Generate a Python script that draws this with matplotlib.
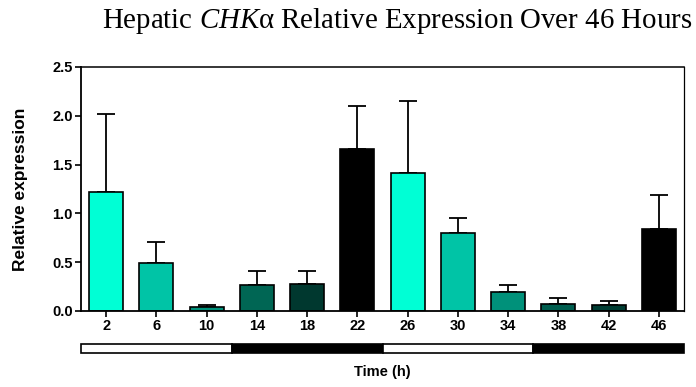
import matplotlib
matplotlib.use("Agg")
import matplotlib.pyplot as plt
from matplotlib.patches import Rectangle
import matplotlib.transforms as mtransforms

# Sampling times (hours) and expression values
hours = ["2", "6", "10", "14", "18", "22", "26", "30", "34", "38", "42", "46"]
means = [1.22, 0.49, 0.04, 0.27, 0.28, 1.66, 1.41, 0.80, 0.19, 0.07, 0.06, 0.84]
upper_err = [0.80, 0.22, 0.018, 0.14, 0.13, 0.44, 0.74, 0.15, 0.08, 0.06, 0.04, 0.35]
colors = ["#00FFD5", "#00C4A6", "#00917A", "#006654", "#00382F", "#000000",
          "#00FFD5", "#00C4A6", "#00917A", "#005E4F", "#003D33", "#000000"]
# Light (white) / dark (black) phases, three sampling points each
phases = ["light", "dark", "light", "dark"]

plt.rcParams["mathtext.fontset"] = "custom"
plt.rcParams["mathtext.rm"] = "Liberation Serif"
plt.rcParams["mathtext.it"] = "Liberation Serif:italic"

fig = plt.figure(figsize=(6.96, 3.87), dpi=100)
ax = fig.add_axes([0.1164, 0.1964, 0.8664, 0.6305])

x = list(range(len(hours)))
ax.bar(x, means, width=0.68, color=colors, edgecolor="black", linewidth=1.2, zorder=2)
ax.errorbar(x, means, yerr=[[0] * len(means), upper_err], fmt="none",
            ecolor="black", elinewidth=1.3, capsize=6.5, capthick=1.3, zorder=1)

ax.set_xlim(-0.5, 11.5)
ax.set_ylim(0, 2.5)
ax.set_yticks([0.0, 0.5, 1.0, 1.5, 2.0, 2.5])
ax.set_yticklabels(["0.0", "0.5", "1.0", "1.5", "2.0", "2.5"])
ax.set_xticks(x)
ax.set_xticklabels(hours)
for lab in ax.get_xticklabels() + ax.get_yticklabels():
    lab.set_fontfamily("Liberation Sans")
    lab.set_fontweight("bold")
    lab.set_fontsize(10.5)
ax.tick_params(axis="both", direction="out", length=4, width=1.2, pad=2)
for s in ax.spines.values():
    s.set_linewidth(1.3)
ax.spines["right"].set_linewidth(0.9)
ax.spines["top"].set_linewidth(1.1)

ax.set_ylabel("Relative expression", fontfamily="Liberation Sans",
              fontweight="bold", fontsize=12.5)
ax.yaxis.set_label_coords(-0.101, 0.5)
ax.set_xlabel("Time (h)", fontfamily="Liberation Sans", fontweight="bold",
              fontsize=10.5)
ax.xaxis.set_label_coords(0.5, -0.25)
ax.xaxis.label.set_va("center")
ax.yaxis.label.set_va("center")

# Light/dark bar beneath the axis
trans = mtransforms.blended_transform_factory(ax.transData, ax.transAxes)
y0, h = -0.173, 0.038
for i, ph in enumerate(phases):
    left = -0.5 + 3 * i
    ax.add_patch(Rectangle((left, y0), 3, h, transform=trans, clip_on=False,
                           facecolor="white" if ph == "light" else "black",
                           edgecolor="black", linewidth=1.2))

fig.text(0.571, 0.945, r"Hepatic $\mathit{CHK}$α Relative Expression Over 46 Hours",
         ha="center", va="center", fontfamily="Liberation Serif", fontsize=20.8)

fig.savefig("out.png", dpi=100)
